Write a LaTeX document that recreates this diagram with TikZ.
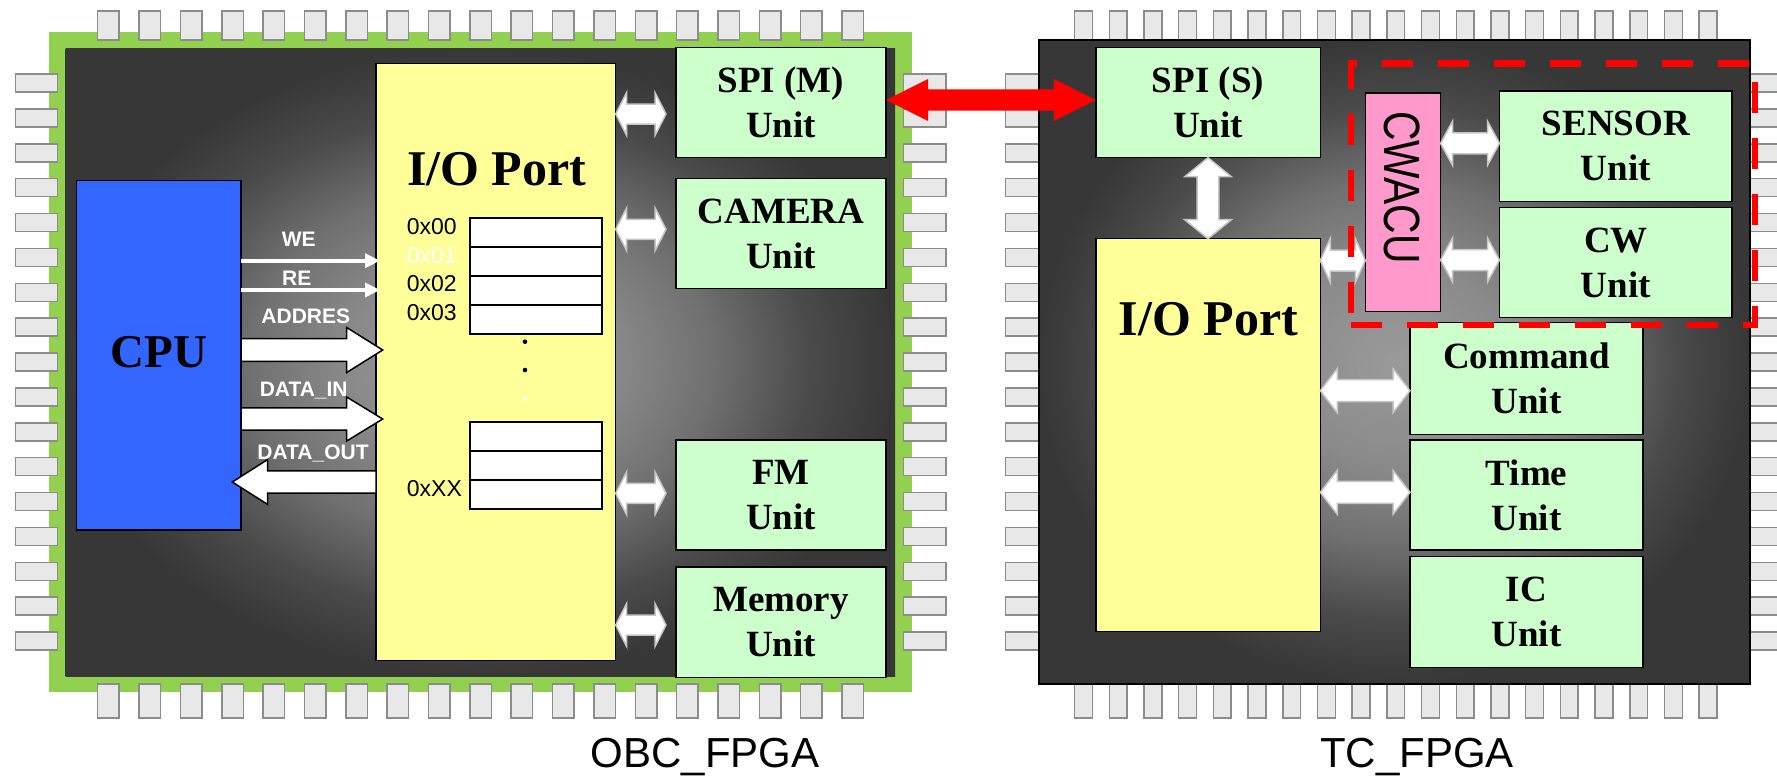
\documentclass[tikz,border=0pt]{standalone}
\usepackage{fontspec}
\setmainfont{Liberation Serif}
\setsansfont{Liberation Sans}
\usepackage{graphicx}
\usetikzlibrary{calc,arrows.meta}

\definecolor{obcgreen}{RGB}{146,208,80}
\definecolor{cpublue}{RGB}{51,102,255}
\definecolor{ioyellow}{RGB}{255,255,153}
\definecolor{unitgreen}{RGB}{204,255,204}
\definecolor{cwpink}{RGB}{255,153,204}
\definecolor{pinfill}{RGB}{232,232,232}
\definecolor{pinline}{RGB}{140,140,140}
\definecolor{shA}{RGB}{154,154,154}
\definecolor{shB}{RGB}{138,138,138}
\definecolor{shC}{RGB}{112,112,112}
\definecolor{shD}{RGB}{74,74,74}
\definecolor{shE}{RGB}{55,55,55}
\pgfdeclareradialshading{chipshade}{\pgfpointorigin}{color(0bp)=(shA); color(8bp)=(shB); color(14bp)=(shC); color(20bp)=(shD); color(25bp)=(shE); color(50bp)=(shE)}

\newcommand{\unitfont}{\fontsize{37}{45}\selectfont\bfseries}
\newcommand{\bigiofont}{\fontsize{50}{60}\selectfont\bfseries}
\newcommand{\cpufont}{\fontsize{47}{56}\selectfont\bfseries}
\newcommand{\regfont}{\fontsize{23}{27}\selectfont\sffamily}
\newcommand{\sigfont}{\fontsize{21}{25}\selectfont\sffamily\bfseries}
\newcommand{\cwfont}{\fontsize{51}{60}\selectfont\sffamily}
\newcommand{\chipfont}{\fontsize{42}{50}\selectfont\sffamily}

% horizontal double arrow: style, left pt, right pt, y pt, head len, head half, shaft half
\newcommand{\hdbl}[7]{\path[#1] let \p1=#2, \p2=#3, \p3=#4 in
 ({\x1},{\y3}) -- ({\x1+#5},{\y3+#6}) -- ({\x1+#5},{\y3+#7}) -- ({\x2-#5},{\y3+#7}) -- ({\x2-#5},{\y3+#6}) -- ({\x2},{\y3})
 -- ({\x2-#5},{\y3-#6}) -- ({\x2-#5},{\y3-#7}) -- ({\x1+#5},{\y3-#7}) -- ({\x1+#5},{\y3-#6}) -- cycle;}
% vertical double arrow: style, top pt, bottom pt, x pt, head len, head half, shaft half
\newcommand{\vdbl}[7]{\path[#1] let \p1=#2, \p2=#3, \p3=#4 in
 ({\x3},{\y1}) -- ({\x3+#6},{\y1-#5}) -- ({\x3+#7},{\y1-#5}) -- ({\x3+#7},{\y2+#5}) -- ({\x3+#6},{\y2+#5}) -- ({\x3},{\y2})
 -- ({\x3-#6},{\y2+#5}) -- ({\x3-#7},{\y2+#5}) -- ({\x3-#7},{\y1-#5}) -- ({\x3-#6},{\y1-#5}) -- cycle;}
% single block arrow: style, tail pt, tip pt, y pt, head len (signed), head half, shaft half
\newcommand{\hsgl}[7]{\path[#1] let \p1=#2, \p2=#3, \p3=#4 in
 ({\x1},{\y3+#7}) -- ({\x2-#5},{\y3+#7}) -- ({\x2-#5},{\y3+#6}) -- ({\x2},{\y3}) -- ({\x2-#5},{\y3-#6}) -- ({\x2-#5},{\y3-#7}) -- ({\x1},{\y3-#7}) -- cycle;}

\tikzset{
  pin/.style={fill=pinfill, draw=pinline, line width=1.5pt},
  box/.style={draw=black, line width=1.5pt, inner sep=0pt, outer sep=0pt, anchor=center},
  unit/.style={box, fill=unitgreen, font=\unitfont, align=center, minimum width=210pt, minimum height=110.4pt},
  cell/.style={draw=black, line width=1.8pt, fill=white, minimum width=131.7pt, minimum height=29.15pt, inner sep=0pt, outer sep=0pt},
  reglbl/.style={font=\regfont, inner sep=0pt, anchor=west},
  siglbl/.style={font=\sigfont, text=white, inner sep=0pt, anchor=base},
  sig/.style={white, line width=4pt, -{Triangle[length=15pt,width=14pt]}},
  blk/.style={fill=white, draw=black, line width=1.5pt, line join=miter},
  wdbl/.style={fill=white, draw=gray!45, line width=1.5pt, line join=miter},
  redarr/.style={fill=red},
  chiplbl/.style={font=\chipfont, inner sep=0pt, anchor=base}
}

\begin{document}
\begin{tikzpicture}[x=1pt,y=-1pt]
\clip (0,0) rectangle (1777,776);
\fill[white] (0,0) rectangle (1777,776);

% ---------- OBC chip body ----------
\fill[obcgreen] (49.3,32.3) rectangle (911.7,691.7);
\foreach \i in {0,...,18} {
  \draw[pin] ({97.7+41.35*\i},11) rectangle ++(21.5,29);
  \draw[pin] ({97.7+41.35*\i},684) rectangle ++(21.5,34);
  \draw[pin] ({1074.6+34.7*\i},11) rectangle ++(17.8,29);
  \draw[pin] ({1074.6+34.7*\i},684) rectangle ++(17.8,34);
}
\foreach \i in {0,...,16} {
  \draw[pin] (15.7,{74+34.875*\i}) rectangle ++(41.6,18);
  \draw[pin] (903.3,{74+34.875*\i}) rectangle ++(42.7,18);
  \draw[pin] (1005.7,{74+34.875*\i}) rectangle ++(34.3,18);
  \draw[pin] (1750,{74+34.875*\i}) rectangle ++(40,18);
}
\path[shade, shading=chipshade] (65.7,48.3) rectangle (895,676);
\path[shade, shading=chipshade, draw=black, line width=2pt] (1039.3,40) rectangle (1750,684);

% ---------- OBC blocks ----------
\node[box, fill=cpublue, minimum width=164.7pt, minimum height=349.7pt] (cpu) at (158.65,355.15) {};
\node[font=\cpufont, inner sep=0pt] (cputxt) at (158.65,352.5) {CPU};

\node[box, fill=ioyellow, minimum width=239.7pt, minimum height=597.4pt] (io) at (495.85,362) {};
\node[font=\bigiofont, anchor=base, inner sep=0pt] (iotxt) at (496.7,185) {I/O Port};

\foreach \k in {0,...,3} { \node[cell] (rega\k) at (535.85,{232.3+29.15*\k}) {}; }
\foreach \k in {0,...,2} { \node[cell] (regb\k) at (535.85,{436.25+29.1*\k}) {}; }
\node[reglbl] (l00) at (406.7,226.7) {0x00};
\node[reglbl, text=white] (l01) at (406.7,255.7) {0x01};
\node[reglbl] (l02) at (406.7,284) {0x02};
\node[reglbl] (l03) at (406.7,312.3) {0x03};
\node[reglbl] (lxx) at (406.7,488.3) {0xXX};
\fill[black] (525,341.7) circle[radius=2.3pt];
\fill[black] (525,370) circle[radius=2.3pt];
\fill[white] (525,398.3) circle[radius=2.3pt];

\node[unit] (spim) at (781,102.5) {SPI (M)\\Unit};
\node[unit] (cam) at (781,233.5) {CAMERA\\Unit};
\node[unit, minimum height=110pt] (fm) at (781,495) {FM\\Unit};
\node[unit, minimum height=110.7pt] (mem) at (781,622.35) {Memory\\Unit};

% signals
\draw[sig] let \p1=(cpu.east), \p2=(io.west), \p3=(0,260.7) in ({\x1},{\y3}) -- ({\x2+4pt},{\y3});
\draw[sig] let \p1=(cpu.east), \p2=(io.west), \p3=(0,290) in ({\x1},{\y3}) -- ({\x2+4pt},{\y3});
\hsgl{blk}{(cpu.east)}{($(io.west)+(6.7,0)$)}{(0,350)}{36pt}{22.5pt}{11.3pt}
\hsgl{blk}{(cpu.east)}{($(io.west)+(6.7,0)$)}{(0,419)}{36pt}{22pt}{11.2pt}
\hsgl{blk}{(io.west)}{($(cpu.east)+(-8.7,0)$)}{(0,482)}{(-35.4pt)}{22.5pt}{11.2pt}
\node[siglbl] (we) at (298.8,246.7) {WE};
\node[siglbl] (re) at (296.7,285) {RE};
\node[siglbl] (addr) at (305.8,323.3) {ADDRES};
\node[siglbl] (din) at (303.7,396.7) {DATA\_IN};
\node[siglbl] (dout) at (313,459.3) {DATA\_OUT};

% OBC double arrows
\hdbl{wdbl}{(io.east)}{($(spim.west)+(-10,0)$)}{(0,114)}{11pt}{21.5pt}{10pt}
\hdbl{wdbl}{(io.east)}{($(cam.west)+(-10,0)$)}{(0,229.3)}{11pt}{21.5pt}{10pt}
\hdbl{wdbl}{(io.east)}{($(fm.west)+(-10,0)$)}{(0,493.3)}{11pt}{21.5pt}{10pt}
\hdbl{wdbl}{(io.east)}{($(mem.west)+(-10,0)$)}{(0,625)}{11pt}{21.5pt}{10pt}

% ---------- TC blocks ----------
\node[unit, minimum width=224.5pt] (spis) at (1208,102.5) {SPI (S)\\Unit};
\node[box, fill=ioyellow, minimum width=224.5pt, minimum height=393pt] (iotc) at (1208,435.2) {};
\node[font=\bigiofont, anchor=base, inner sep=0pt] (iotctxt) at (1208.3,335) {I/O Port};
\node[box, fill=cwpink, minimum width=75.2pt, minimum height=218.3pt] (cwacu) at (1402.9,202.2) {};
\node[rotate=-90, font=\cwfont, inner sep=0pt] (cwtxt) at (1401.7,187.5) {\scalebox{0.8}[1]{CWACU}};
\node[unit, minimum width=232.7pt, minimum height=110.7pt] (sensor) at (1615.85,146.35) {SENSOR\\Unit};
\node[unit, minimum width=232.7pt, minimum height=110.4pt] (cw) at (1615.85,262.5) {CW\\Unit};
\node[unit, minimum width=232.9pt, minimum height=111.6pt] (cmd) at (1526.45,378.5) {Command\\Unit};
\node[unit, minimum width=232.9pt, minimum height=110pt] (time) at (1526.45,495) {Time\\Unit};
\node[unit, minimum width=232.9pt, minimum height=110.6pt] (ic) at (1526.45,612) {IC\\Unit};

% TC double arrows
\vdbl{wdbl}{(spis.south)}{(iotc.north)}{(spis.south)}{19pt}{23.3pt}{10.8pt}
\hdbl{wdbl}{(iotc.east)}{(cwacu.west)}{(0,260.5)}{10pt}{22pt}{10.5pt}
\hdbl{wdbl}{(cwacu.east)}{(sensor.west)}{(0,143.3)}{12pt}{22pt}{10.5pt}
\hdbl{wdbl}{(cwacu.east)}{(cw.west)}{(0,260)}{12pt}{22pt}{10.5pt}
\hdbl{wdbl}{(iotc.east)}{(cmd.west)}{(0,390.7)}{17pt}{22pt}{11pt}
\hdbl{wdbl}{(iotc.east)}{(time.west)}{(0,492.3)}{17pt}{22pt}{11pt}

% red link
\hdbl{redarr}{(spim.east)}{(spis.west)}{(0,100)}{42pt}{21pt}{10.7pt}

% dashed group
\node[draw=red, line width=6.7pt, dash pattern=on 31pt off 25pt, minimum width=404pt, minimum height=261.7pt, inner sep=0pt, outer sep=0pt] (cwgroup) at (1553,194.15) {};

% chip labels
\node[chiplbl] (obclbl) at (705,767.5) {OBC\_FPGA};
\node[chiplbl] (tclbl) at (1417,767.5) {TC\_FPGA};
\end{tikzpicture}
\end{document}
